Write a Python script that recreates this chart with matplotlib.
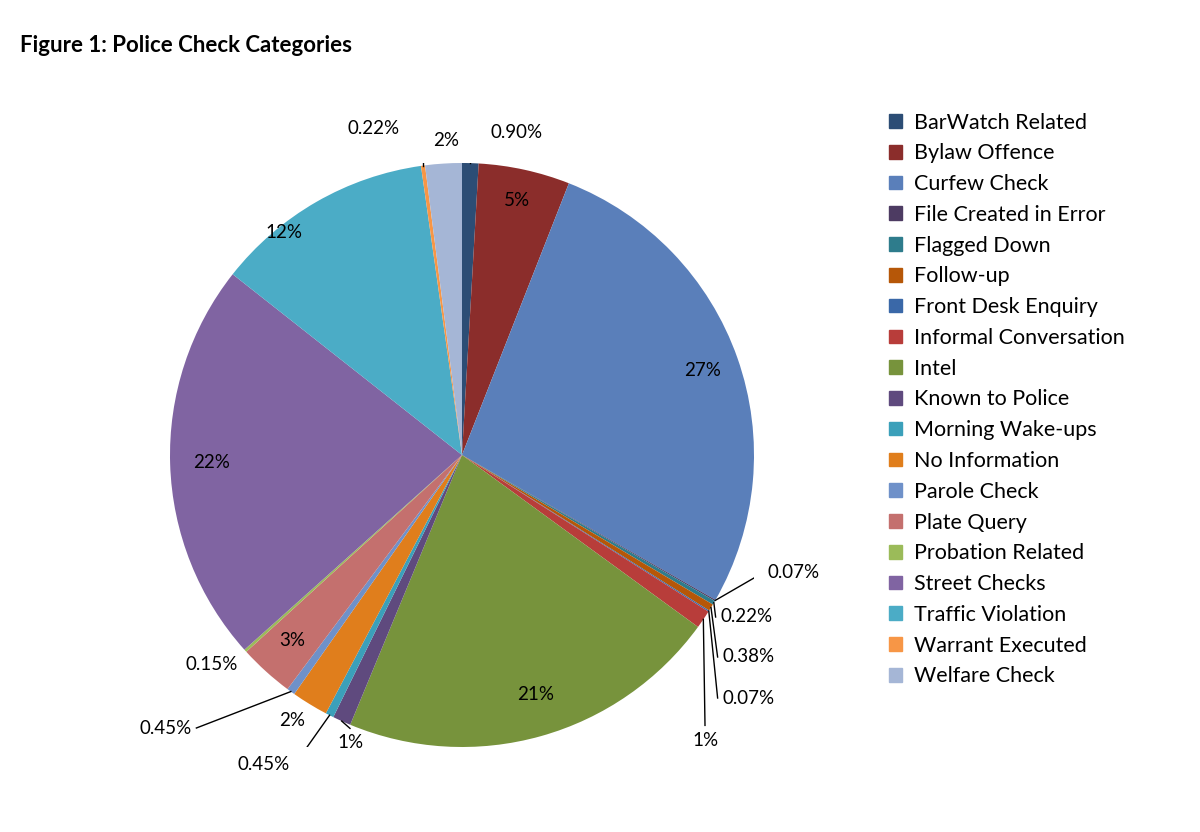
import matplotlib
matplotlib.use("Agg")
import matplotlib.pyplot as plt
import numpy as np

categories = ["BarWatch Related", "Bylaw Offence", "Curfew Check", "File Created in Error",
              "Flagged Down", "Follow-up", "Front Desk Enquiry", "Informal Conversation",
              "Intel", "Known to Police", "Morning Wake-ups", "No Information",
              "Parole Check", "Plate Query", "Probation Related", "Street Checks",
              "Traffic Violation", "Warrant Executed", "Welfare Check"]
values = [0.90, 5, 27, 0.07, 0.22, 0.38, 0.07, 1, 21, 1, 0.45, 2, 0.45, 3, 0.15, 22, 12, 0.22, 2]
labels = ["0.90%", "5%", "27%", "0.07%", "0.22%", "0.38%", "0.07%", "1%", "21%", "1%",
          "0.45%", "2%", "0.45%", "3%", "0.15%", "22%", "12%", "0.22%", "2%"]
colors = ["#2C4D75", "#8B2D2B", "#5A7FBA", "#4D3B62", "#2E7C8C", "#B65708", "#3A68A8",
          "#B83D3A", "#77933C", "#5F4A7E", "#3BA0BA", "#E07E1C", "#6F91C9", "#C4706E",
          "#9BBB59", "#8064A2", "#4BACC6", "#F79646", "#A5B6D6"]

plt.rcParams['font.family'] = ['Lato', 'DejaVu Sans']
fig = plt.figure(figsize=(12, 8.32), dpi=100)
fig.text(20/1200, 1-45/832, "Figure 1: Police Check Categories", fontsize=16,
         fontweight='bold', va='center', ha='left')

cx, cy, R = 462, 455, 292
ax = fig.add_axes([(cx-R)/1200, (832-cy-R)/832, 2*R/1200, 2*R/832])
wedges, _ = ax.pie(values, colors=colors, startangle=90, counterclock=False,
                   radius=1, wedgeprops=dict(linewidth=0))
ax.set_xlim(-1, 1); ax.set_ylim(-1, 1); ax.set_aspect('auto')

def d(px, py):
    return ((px-cx)/R, (cy-py)/R)

pos = [(490, 133, True, 'left'), (517, 200, False, 'center'), (703, 370, False, 'center'),
       (767, 573, True, 'left'), (720, 617, True, 'left'), (722, 657, True, 'left'),
       (722, 698, True, 'left'), (705, 740, True, 'center'), (536, 695, False, 'center'),
       (350, 743, True, 'center'), (290, 765, True, 'right'), (292, 720, False, 'center'),
       (192, 728, True, 'right'), (292, 640, False, 'center'), (212, 665, False, 'center'),
       (212, 462, False, 'center'), (284, 232, False, 'center'), (400, 128, True, 'right'),
       (446, 140, False, 'center')]

total = sum(values)
cum = 0
for v, lab, (px, py, lead, ha) in zip(values, labels, pos):
    mid = 90 - 360*(cum + v/2)/total
    cum += v
    tx, ty = d(px, py)
    ax.text(tx, ty, lab, fontsize=13.5, ha=ha, va='center')
    if lead:
        ex, ey = np.cos(np.radians(mid)), np.sin(np.radians(mid))
        if ha == 'left':
            lx, ly = tx - 0.015, ty
        elif ha == 'right':
            lx, ly = tx + 0.015, ty
        else:
            lx, ly = tx, ty + 0.05
        if abs(ey) > 0.95:
            ax.plot([ex, ex, lx], [ey, ly, ly], color='black', lw=1)
        else:
            ax.plot([ex, lx], [ey, ly], color='black', lw=1)

handles = [plt.Rectangle((0, 0), 1, 1, color=c) for c in colors]
fig.legend(handles, categories, loc='upper left', bbox_to_anchor=(880/1200, 1-104/832),
           frameon=False, fontsize=15.5, handlelength=0.6, handleheight=0.6,
           labelspacing=0.5, handletextpad=0.6, borderaxespad=0)
fig.savefig("out.png", dpi=100, facecolor='white')
